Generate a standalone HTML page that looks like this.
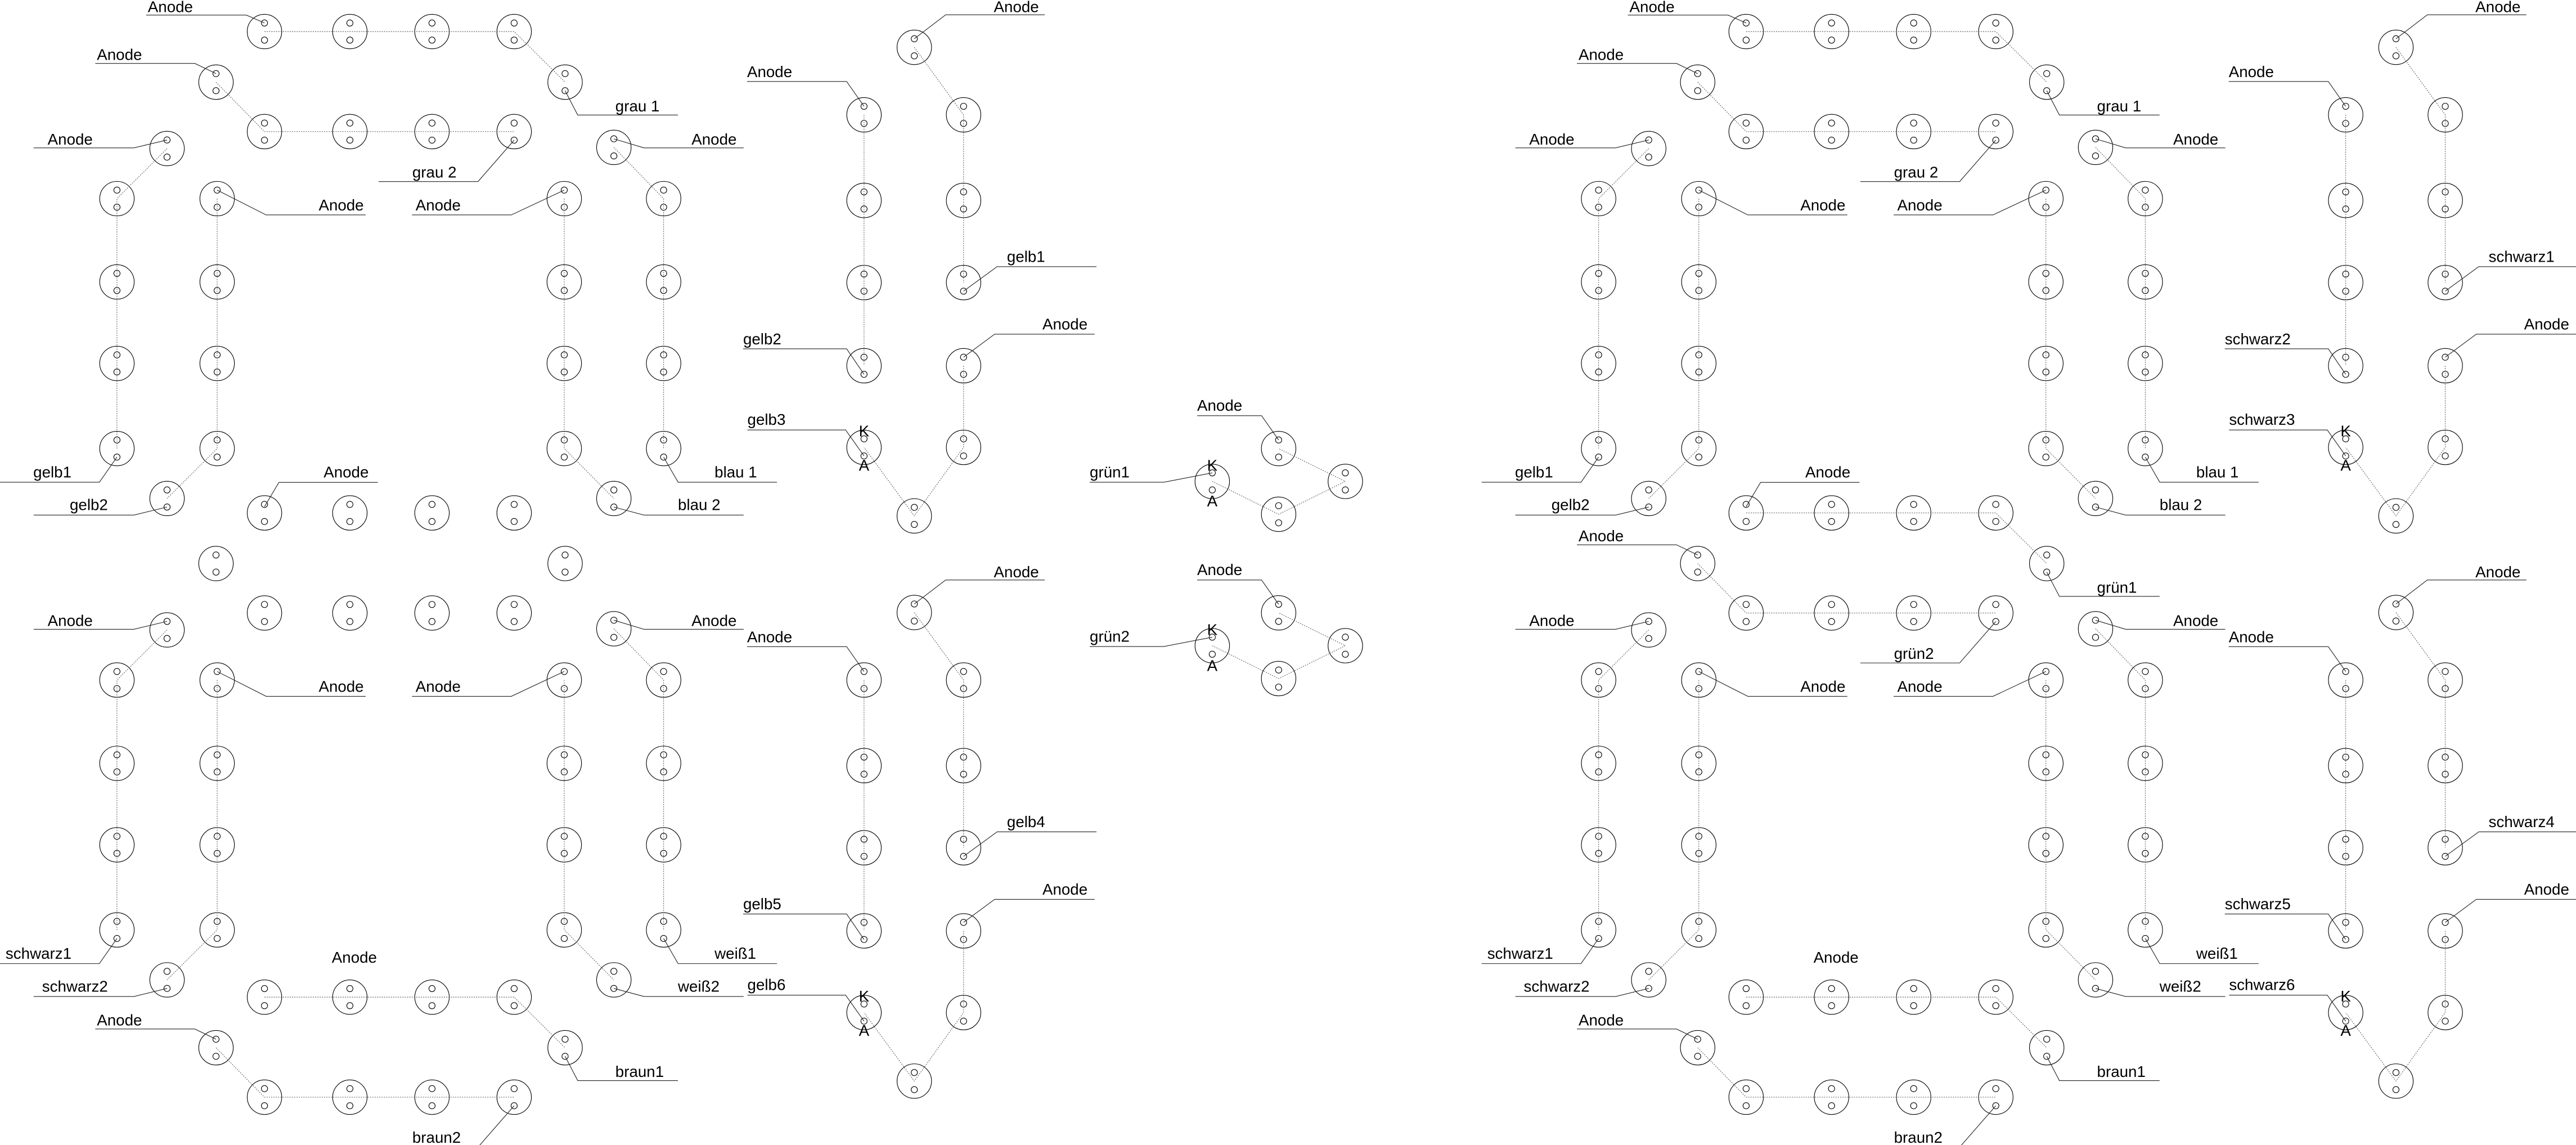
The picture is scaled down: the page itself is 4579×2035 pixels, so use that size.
<!DOCTYPE html>
<html><head><meta charset="utf-8">
<style>
html,body{margin:0;padding:0;background:#fff;}
svg{display:block;}
.k{fill:none;stroke:#000;stroke-width:.38}
.d{fill:none;stroke:#555;stroke-width:.35;stroke-dasharray:.7 .7}
.l{fill:none;stroke:#222;stroke-width:.38}
text{font-family:"Liberation Sans",sans-serif;font-size:9.5px;fill:#000}
.e{text-anchor:end}
.m{text-anchor:middle}
</style></head>
<body>
<svg width="4579" height="2035" viewBox="0 0 1568.2 696.9" preserveAspectRatio="none" xmlns="http://www.w3.org/2000/svg" xmlns:xlink="http://www.w3.org/1999/xlink">
<defs>
<g id="c" class="k"><circle r="10.5"/><circle cy="-5.2" r="1.9"/><circle cy="5.2" r="1.9"/></g>
<!-- loop circles -->
<g id="loopC">
<use xlink:href="#c" x="161" y="19.2"/><use xlink:href="#c" x="213" y="19.2"/><use xlink:href="#c" x="263" y="19.2"/><use xlink:href="#c" x="313" y="19.2"/>
<use xlink:href="#c" x="131.5" y="50"/><use xlink:href="#c" x="344" y="50"/>
<use xlink:href="#c" x="161" y="80.1"/><use xlink:href="#c" x="213" y="80.1"/><use xlink:href="#c" x="263" y="80.1"/><use xlink:href="#c" x="313" y="80.1"/>
</g>
<g id="loopD" class="d">
<path d="M161 19.2H313L344 50M131.5 50L161 80.1H313"/>
</g>
<g id="aL" class="l">
<polyline points="58,38.6 118.6,38.6 131.5,44.8"/>
<polyline points="344,55.2 351.7,70 412.7,70"/>
<polyline points="313,85.3 291,110.5 230.5,110.5"/>
</g>
<!-- group B -->
<g id="bC">
<use xlink:href="#c" x="101.7" y="90.4"/>
<use xlink:href="#c" x="71.2" y="120.9"/><use xlink:href="#c" x="71.2" y="171.6"/><use xlink:href="#c" x="71.2" y="221.2"/><use xlink:href="#c" x="71.2" y="273"/>
<use xlink:href="#c" x="132.2" y="120.9"/><use xlink:href="#c" x="132.2" y="171.6"/><use xlink:href="#c" x="132.2" y="221.2"/><use xlink:href="#c" x="132.2" y="273"/>
<use xlink:href="#c" x="101.7" y="303.4"/>
<path class="d" d="M101.7 90.4L71.2 120.9V273M132.2 120.9V273L101.7 303.4"/>
<g class="l">
<polyline points="20.5,90 81.5,90 101.7,85.2"/>
<polyline points="132.2,115.7 162,130.8 222.6,130.8"/>
<polyline points="71.2,278.2 60.5,293.5 0,293.5"/>
<polyline points="101.7,308.6 81.6,313.5 20.5,313.5"/>
</g>
</g>
<!-- group C -->
<g id="cC">
<use xlink:href="#c" x="373.7" y="89.7"/>
<use xlink:href="#c" x="343.5" y="120.9"/><use xlink:href="#c" x="343.5" y="171.6"/><use xlink:href="#c" x="343.5" y="221.2"/><use xlink:href="#c" x="343.5" y="273"/>
<use xlink:href="#c" x="404" y="120.9"/><use xlink:href="#c" x="404" y="171.6"/><use xlink:href="#c" x="404" y="221.2"/><use xlink:href="#c" x="404" y="273"/>
<use xlink:href="#c" x="373.7" y="303.4"/>
<path class="d" d="M373.7 89.7L404 120.9V273M343.5 120.9V273L373.7 303.4"/>
<g class="l">
<polyline points="373.7,84.5 392,90 452.7,90"/>
<polyline points="343.5,115.7 311.3,130.8 250.8,130.8"/>
<polyline points="404,278.2 412.8,293.5 473,293.5"/>
<polyline points="373.7,308.6 392,313.5 452.7,313.5"/>
</g>
</g>
<!-- group D -->
<g id="dC">
<use xlink:href="#c" x="556.6" y="28.8"/>
<use xlink:href="#c" x="526" y="69.9"/><use xlink:href="#c" x="526" y="122"/><use xlink:href="#c" x="526" y="172"/><use xlink:href="#c" x="526" y="222.6"/><use xlink:href="#c" x="526" y="272.3"/>
<use xlink:href="#c" x="586.6" y="69.9"/><use xlink:href="#c" x="586.6" y="122"/><use xlink:href="#c" x="586.6" y="172"/><use xlink:href="#c" x="586.6" y="222.6"/><use xlink:href="#c" x="586.6" y="272.3"/>
<use xlink:href="#c" x="556.6" y="314"/>
<path class="d" d="M556.6 28.8L586.6 69.9V172M586.6 222.6V272.3L556.6 314L526 272.3M526 69.9V222.6"/>
<g class="l">
<polyline points="556.6,23.6 575.7,9 636,9"/>
<polyline points="526,64.7 515.4,49.6 454.8,49.6"/>
<polyline points="586.6,177.2 607,162.3 667.5,162.3"/>
<polyline points="586.6,217.4 605.5,203.4 666.4,203.4"/>
<polyline points="526,227.8 515.4,212.3 452.4,212.3"/>
<polyline points="526,277.5 514.8,261.7 455,261.7"/>
</g>
</g>
<!-- group E -->
<g id="eC">
<use xlink:href="#c" x="738" y="293"/><use xlink:href="#c" x="778.4" y="273"/><use xlink:href="#c" x="819" y="293"/><use xlink:href="#c" x="778.4" y="313"/>
<path class="d" d="M738 293L778.4 313L819 293L778.4 273"/>
<g class="l">
<polyline points="778.4,267.8 768,253 728.8,253"/>
<polyline points="738,287.8 708.5,293.5 663.4,293.5"/>
</g>
</g>
<g id="half">
<use xlink:href="#loopC"/><use xlink:href="#loopD"/><use xlink:href="#aL"/>
<polyline class="l" points="89,9.2 150,9.2 161,14"/>
<use xlink:href="#loopC" y="293"/>
<polyline class="l" points="161,308.4 169.8,293.6 230,293.6"/>
<use xlink:href="#loopC" y="587.7"/><use xlink:href="#loopD" y="587.7"/><use xlink:href="#aL" y="587.7"/>
<use xlink:href="#bC"/><use xlink:href="#bC" y="293"/>
<use xlink:href="#cC"/><use xlink:href="#cC" y="293"/>
<use xlink:href="#dC"/><use xlink:href="#dC" y="344"/>
</g>
</defs>

<!-- LEFT HALF -->
<use xlink:href="#half"/>
<use xlink:href="#eC"/><use xlink:href="#eC" y="100"/>
<g>
<text x="90" y="7.3">Anode</text><text x="59" y="36.5">Anode</text><text x="374.6" y="67.8">grau 1</text><text x="251" y="108">grau 2</text>
<text x="197" y="290.5">Anode</text>
<text x="202" y="586">Anode</text><text x="59" y="624.2">Anode</text><text x="374.6" y="655.5">braun1</text><text x="251" y="695.5">braun2</text>
<text x="29" y="88">Anode</text><text x="194" y="128">Anode</text><text class="e" x="43.5" y="290.5">gelb1</text><text class="e" x="65.7" y="310.5">gelb2</text>
<text x="29" y="381">Anode</text><text x="194" y="421">Anode</text><text class="e" x="43.5" y="583.5">schwarz1</text><text class="e" x="65.7" y="603.5">schwarz2</text>
<text x="421" y="88">Anode</text><text x="253" y="128">Anode</text><text x="435" y="290.5">blau 1</text><text x="412.7" y="310.5">blau 2</text>
<text x="421" y="381">Anode</text><text x="253" y="421">Anode</text><text x="435" y="583.5">weiß1</text><text x="412.7" y="603.5">weiß2</text>
<text x="605" y="7.3">Anode</text><text x="454.8" y="47">Anode</text><text x="613" y="159.5">gelb1</text><text x="634.6" y="200.5">Anode</text><text x="452.4" y="209.5">gelb2</text><text x="455" y="258.5">gelb3</text>
<text class="m" x="526" y="265.5">K</text><text class="m" x="526" y="286.5">A</text>
<text x="605" y="351.3">Anode</text><text x="454.8" y="391">Anode</text><text x="613" y="503.5">gelb4</text><text x="634.6" y="544.5">Anode</text><text x="452.4" y="553.5">gelb5</text><text x="455" y="602.5">gelb6</text>
<text class="m" x="526" y="609.5">K</text><text class="m" x="526" y="630.5">A</text>
<text x="728.8" y="250">Anode</text><text x="663.4" y="290.5">grün1</text><text class="m" x="738" y="286.5">K</text><text class="m" x="738" y="308.3">A</text>
<text x="728.8" y="350">Anode</text><text x="663.4" y="390.5">grün2</text><text class="m" x="738" y="386.5">K</text><text class="m" x="738" y="408.3">A</text>
</g>

<!-- RIGHT HALF -->
<g transform="translate(902,0)">
<use xlink:href="#half"/>
<use xlink:href="#loopD" y="293"/><use xlink:href="#aL" y="293"/>
<text x="90" y="7.3">Anode</text><text x="59" y="36.5">Anode</text><text x="374.6" y="67.8">grau 1</text><text x="251" y="108">grau 2</text>
<text x="197" y="290.5">Anode</text><text x="59" y="329.5">Anode</text><text x="374.6" y="360.8">grün1</text><text x="251" y="401">grün2</text>
<text x="202" y="586">Anode</text><text x="59" y="624.2">Anode</text><text x="374.6" y="655.5">braun1</text><text x="251" y="695.5">braun2</text>
<text x="29" y="88">Anode</text><text x="194" y="128">Anode</text><text class="e" x="43.5" y="290.5">gelb1</text><text class="e" x="65.7" y="310.5">gelb2</text>
<text x="29" y="381">Anode</text><text x="194" y="421">Anode</text><text class="e" x="43.5" y="583.5">schwarz1</text><text class="e" x="65.7" y="603.5">schwarz2</text>
<text x="421" y="88">Anode</text><text x="253" y="128">Anode</text><text x="435" y="290.5">blau 1</text><text x="412.7" y="310.5">blau 2</text>
<text x="421" y="381">Anode</text><text x="253" y="421">Anode</text><text x="435" y="583.5">weiß1</text><text x="412.7" y="603.5">weiß2</text>
<text x="605" y="7.3">Anode</text><text x="454.8" y="47">Anode</text><text x="613" y="159.5">schwarz1</text><text x="634.6" y="200.5">Anode</text><text x="452.4" y="209.5">schwarz2</text><text x="455" y="258.5">schwarz3</text>
<text class="m" x="526" y="265.5">K</text><text class="m" x="526" y="286.5">A</text>
<text x="605" y="351.3">Anode</text><text x="454.8" y="391">Anode</text><text x="613" y="503.5">schwarz4</text><text x="634.6" y="544.5">Anode</text><text x="452.4" y="553.5">schwarz5</text><text x="455" y="602.5">schwarz6</text>
<text class="m" x="526" y="609.5">K</text><text class="m" x="526" y="630.5">A</text>
</g>
</svg>
</body></html>
